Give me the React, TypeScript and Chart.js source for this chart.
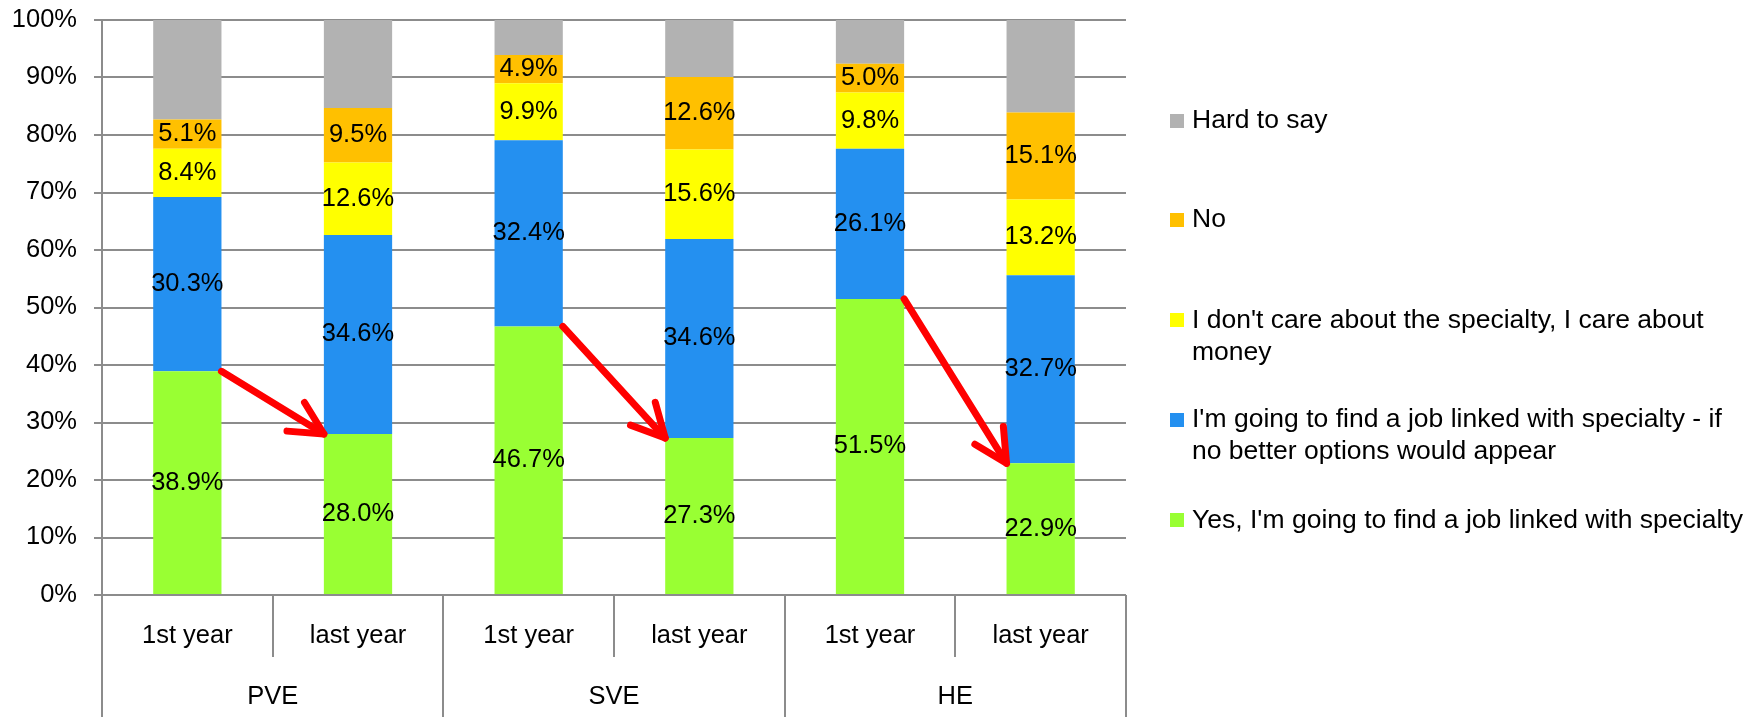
import React, { useEffect, useRef } from 'react';
import { Chart, registerables } from 'chart.js';

Chart.register(...registerables);

// ---- data ----
const categories = ['1st year', 'last year', '1st year', 'last year', '1st year', 'last year'];
const groups = ['PVE', 'SVE', 'HE'];

const yesJob = [38.9, 28.0, 46.7, 27.3, 51.5, 22.9];
const jobIfNoBetter = [30.3, 34.6, 32.4, 34.6, 26.1, 32.7];
const dontCare = [8.4, 12.6, 9.9, 15.6, 9.8, 13.2];
const noAnswer = [5.1, 9.5, 4.9, 12.6, 5.0, 15.1];
const hardToSay = [17.3, 15.3, 6.1, 9.9, 7.6, 16.1];

const seriesLabels = [
  "Yes, I'm going to find a job linked with specialty",
  "I'm going to find a job linked with specialty - if no better options would appear",
  "I don't care about the specialty, I care about money",
  'No',
  'Hard to say',
];

// legend text (top to bottom), wrapped as in the original
const legendLines = [
  ['Hard to say'],
  ['No'],
  ["I don't care about the specialty, I care about", 'money'],
  ["I'm going to find a job linked with specialty - if", 'no better options would appear'],
  ["Yes, I'm going to find a job linked with specialty"],
];

// arrows drawn between these category pairs on the first series
const arrowPairs = [
  [0, 1],
  [2, 3],
  [4, 5],
];

const colors = ['#99FF33', '#2490F0', '#FFFF00', '#FFC000', '#B2B2B2'];

const FONT = '"Liberation Sans", Arial, sans-serif';
const GRID = '#8c8c8c';

function drawText(ctx: CanvasRenderingContext2D, text: string, x: number, y: number, size: number, align: CanvasTextAlign) {
  ctx.save();
  ctx.font = `${size}px ${FONT}`;
  ctx.textAlign = align;
  ctx.textBaseline = 'middle';
  ctx.fillStyle = '#000';
  ctx.translate(x, y);
  ctx.scale(1.02, 1);
  ctx.fillText(text, 0, 0);
  ctx.restore();
}

function line(ctx: CanvasRenderingContext2D, x1: number, y1: number, x2: number, y2: number) {
  ctx.beginPath();
  ctx.moveTo(x1, y1);
  ctx.lineTo(x2, y2);
  ctx.stroke();
}

const overlay = {
  id: 'overlay',
  afterDraw(chart: any) {
    const { ctx, chartArea, scales } = chart;
    const ys = scales.y;
    const xs = scales.x;
    const n = categories.length;
    const left = Math.round(chartArea.left);
    const right = Math.round(chartArea.right);
    const bottom = Math.round(chartArea.bottom);
    const catW = (right - left) / n;
    const H = chart.height;

    // axis frame below plot
    ctx.save();
    ctx.strokeStyle = GRID;
    ctx.lineWidth = 2;
    line(ctx, left, bottom, left, H);
    line(ctx, right, bottom, right, H);
    for (let k = 1; k < n; k++) {
      const xk = Math.round(left + k * catW);
      const isGroup = k % 2 === 0;
      line(ctx, xk, bottom, xk, isGroup ? H : bottom + 62);
    }
    ctx.restore();

    // category labels
    categories.forEach((c, i) => drawText(ctx, c, xs.getPixelForValue(i), bottom + 41, 25, 'center'));
    groups.forEach((g, j) => drawText(ctx, g, left + (2 * j + 1) * catW, bottom + 102, 25, 'center'));

    // y tick labels
    ys.ticks.forEach((t: any) => drawText(ctx, `${t.value}%`, left - 25, ys.getPixelForValue(t.value), 25, 'right'));

    // data labels
    for (let d = 0; d < 4; d++) {
      const meta = chart.getDatasetMeta(d);
      const values = chart.data.datasets[d].data as number[];
      meta.data.forEach((bar: any, i: number) => {
        const p = bar.getProps(['x', 'y', 'base'], true);
        drawText(ctx, `${values[i].toFixed(1)}%`, p.x, (p.y + p.base) / 2, 25, 'center');
      });
    }

    // arrows
    const meta0 = chart.getDatasetMeta(0);
    ctx.save();
    ctx.strokeStyle = '#FF0000';
    ctx.lineWidth = 7;
    ctx.lineCap = 'round';
    ctx.lineJoin = 'round';
    arrowPairs.forEach(([a, b]) => {
      const pa = meta0.data[a].getProps(['x', 'y', 'width'], true);
      const pb = meta0.data[b].getProps(['x', 'y', 'width'], true);
      const x1 = pa.x + pa.width / 2;
      const y1 = pa.y;
      const x2 = pb.x - pb.width / 2;
      const y2 = pb.y;
      line(ctx, x1, y1, x2, y2);
      const ang = Math.atan2(y2 - y1, x2 - x1) + Math.PI;
      const L = 37;
      const spread = (27 * Math.PI) / 180;
      ctx.beginPath();
      ctx.moveTo(x2 + L * Math.cos(ang - spread), y2 + L * Math.sin(ang - spread));
      ctx.lineTo(x2, y2);
      ctx.lineTo(x2 + L * Math.cos(ang + spread), y2 + L * Math.sin(ang + spread));
      ctx.stroke();
    });
    ctx.restore();

    // legend
    const legendY = [120.5, 219.7, 320.4, 420, 520.4];
    const lineGap = 32;
    const order = [4, 3, 2, 1, 0];
    order.forEach((dsIndex, k) => {
      const y0 = legendY[k];
      ctx.save();
      ctx.fillStyle = colors[dsIndex];
      ctx.fillRect(1170, Math.round(y0 - 7), 14, 14);
      ctx.restore();
      legendLines[k].forEach((t, li) => drawText(ctx, t, 1192, y0 + li * lineGap, 26, 'left'));
    });
  },
};

export default function App() {
  const ref = useRef<HTMLCanvasElement>(null);

  useEffect(() => {
    const seriesData = [yesJob, jobIfNoBetter, dontCare, noAnswer, hardToSay];
    const chart = new Chart(ref.current as HTMLCanvasElement, {
      type: 'bar',
      data: {
        labels: categories,
        datasets: seriesData.map((data, i) => ({
          label: seriesLabels[i],
          data,
          backgroundColor: colors[i],
          borderWidth: 0,
          barPercentage: 0.4,
          categoryPercentage: 1,
        })),
      },
      options: {
        animation: false,
        responsive: true,
        maintainAspectRatio: false,
        layout: { padding: { top: 20, right: 636, left: 0, bottom: 0 } },
        plugins: {
          legend: { display: false },
          tooltip: { enabled: false },
        },
        scales: {
          x: {
            stacked: true,
            grid: { display: false },
            border: { display: false },
            ticks: { display: false },
            afterFit: (s: any) => {
              s.height = 122;
            },
          },
          y: {
            stacked: true,
            min: 0,
            max: 100,
            ticks: { stepSize: 10, display: false },
            grid: { color: GRID, lineWidth: 2, tickLength: 8, drawTicks: true },
            border: { color: GRID, width: 2 },
            afterFit: (s: any) => {
              s.width = 102;
            },
          },
        },
      },
      plugins: [overlay],
    } as any);
    return () => chart.destroy();
  }, []);

  return (
    <div style={{ position: 'fixed', left: 0, top: 0, width: 1762, height: 717, background: '#fff' }}>
      <canvas ref={ref} />
    </div>
  );
}
